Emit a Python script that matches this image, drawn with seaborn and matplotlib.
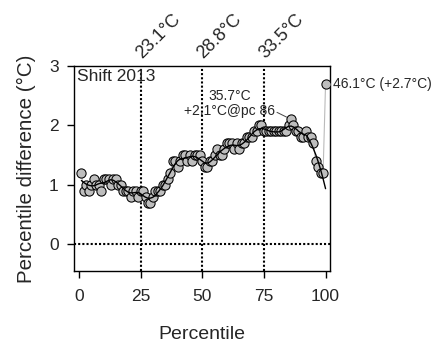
import numpy as np
import pandas as pd
import matplotlib
matplotlib.use("Agg")
import matplotlib.pyplot as plt
import seaborn as sns

# ---- data -------------------------------------------------------------
percentiles = list(range(1, 101))
diffs = [
    1.2, 0.9, 1.0, 0.9, 1.0, 1.1, 1.0, 1.0, 0.9, 1.1,
    1.1, 1.1, 1.0, 1.1, 1.1, 1.0, 1.0, 0.9, 0.9, 0.9,
    0.8, 0.9, 0.9, 0.8, 0.9, 0.9, 0.8, 0.7, 0.7, 0.8,
    0.9, 0.9, 0.9, 1.0, 1.0, 1.1, 1.2, 1.4, 1.4, 1.3,
    1.4, 1.5, 1.5, 1.4, 1.5, 1.4, 1.5, 1.5, 1.5, 1.4,
    1.3, 1.3, 1.4, 1.4, 1.5, 1.6, 1.5, 1.5, 1.6, 1.7,
    1.7, 1.7, 1.6, 1.7, 1.6, 1.7, 1.7, 1.8, 1.8, 1.8,
    1.9, 1.9, 2.0, 2.0, 1.9, 1.9, 1.9, 1.9, 1.9, 1.9,
    1.9, 1.9, 1.9, 1.9, 2.0, 2.1, 2.0, 1.9, 1.9, 1.8,
    1.8, 1.9, 1.8, 1.8, 1.7, 1.4, 1.3, 1.2, 1.2, 2.7,
]
ref_pcs = [25, 50, 75]
ref_labels = ["23.1°C", "28.8°C", "33.5°C"]
panel_title = "Shift 2013"
peak_label = "35.7°C\n+2.1°C@pc 86"
peak_pc = 86
max_label = "46.1°C (+2.7°C)"
x_ticks = [0, 25, 50, 75, 100]
y_ticks = [0, 1, 2, 3]

df = pd.DataFrame({"pc": percentiles, "diff": diffs})


def loess(x, y, xnew, span=0.15, deg=2):
    x = np.asarray(x, float)
    y = np.asarray(y, float)
    q = int(np.ceil(span * len(x)))
    out = []
    for x0 in xnew:
        d = np.abs(x - x0)
        h = np.sort(d)[q - 1] * 1.001
        w = np.clip(1 - (d / h) ** 3, 0, None) ** 3
        X = np.vander(x - x0, deg + 1)
        sw = np.sqrt(w)
        coef = np.linalg.lstsq(X * sw[:, None], y * sw, rcond=None)[0]
        out.append(coef[-1])
    return np.array(out)


fit_df = df.iloc[:-1]
grid = np.linspace(1, 100, 200)
smooth = pd.DataFrame({"pc": grid, "fit": loess(fit_df["pc"], fit_df["diff"], grid)})

# ---- style ------------------------------------------------------------
sns.set_style("ticks")
plt.rcParams["font.family"] = ["Liberation Sans", "DejaVu Sans"]
plt.rcParams["axes.linewidth"] = 1.0

fig = plt.figure(figsize=(4.36, 3.42), dpi=100)
ax = fig.add_axes([74 / 436, 1 - 271 / 342, (330 - 74) / 436, (271 - 66) / 342])

sns.lineplot(data=df, x="pc", y="diff", color="#BBBBBB", lw=0.8,
             estimator=None, sort=False, ax=ax, zorder=2)
sns.scatterplot(data=df, x="pc", y="diff", s=44, color="#BEBEBE",
                edgecolor="black", linewidth=0.75, ax=ax, zorder=3)
sns.lineplot(data=smooth, x="pc", y="fit", color="black", lw=1.0,
             estimator=None, sort=False, ax=ax, zorder=4)

dot = (0, (1, 1))
ax.axhline(0, color="black", lw=1.5, ls=dot, zorder=1)
for p, lab in zip(ref_pcs, ref_labels):
    ax.axvline(p, color="black", lw=1.5, ls=dot, zorder=1)
    ax.annotate(lab, xy=(p, 1.0), xycoords=("data", "axes fraction"),
                xytext=(-1.5, 7), textcoords="offset points",
                rotation=45, rotation_mode="anchor", ha="left", va="center",
                fontsize=13, annotation_clip=False)

ax.set_xlim(-2, 101.8)
ax.set_ylim(-0.45, 3.0)
ax.set_xticks(x_ticks)
ax.set_yticks(y_ticks)
ax.tick_params(axis="both", direction="out", length=5, width=1,
               labelsize=12.5, color="black")
ax.tick_params(axis="x", pad=8)
ax.tick_params(axis="y", pad=6)
for s in ax.spines.values():
    s.set_visible(True)
    s.set_color("black")

ax.set_xlabel("Percentile", fontsize=14, labelpad=16)
ax.set_ylabel("Percentile difference (°C)", fontsize=14.8, labelpad=9)

ax.text(0.012, 0.985, panel_title, transform=ax.transAxes, ha="left", va="top",
        fontsize=12.5)

ax.text(61.2, 2.37, peak_label, ha="center", va="center", fontsize=10,
        linespacing=1.05)
ax.plot([80.3, 84.2], [2.22, 2.14], color="#444444", lw=0.7)

ax.text(103, diffs[-1], max_label, ha="left", va="center", fontsize=10,
        clip_on=False)

fig.savefig("out.png", dpi=100)
